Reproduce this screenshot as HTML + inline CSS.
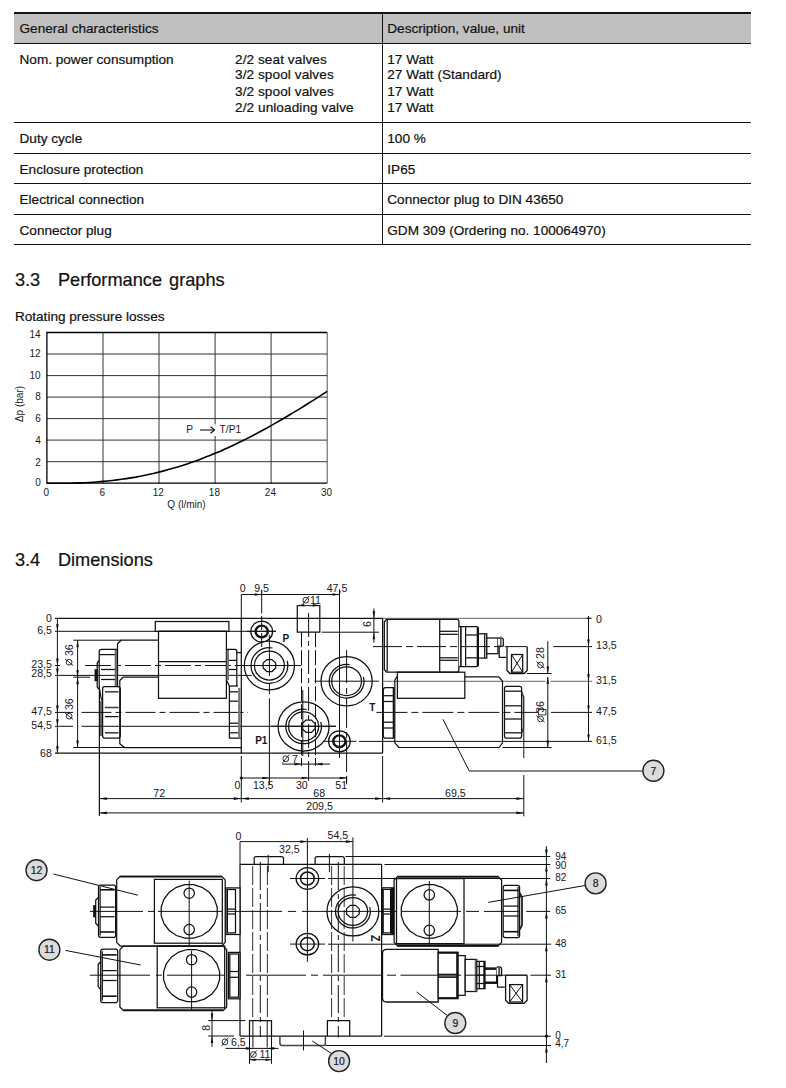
<!DOCTYPE html>
<html><head><meta charset="utf-8"><title>Dimensions</title>
<style>
html,body{margin:0;padding:0;background:#fff;}
body{width:786px;height:1088px;position:relative;overflow:hidden;font-family:"Liberation Sans",sans-serif;color:#111;}
.t{transform:translateY(0.7px);-webkit-text-stroke:0.2px #111;position:absolute;white-space:nowrap;font-size:13.6px;line-height:16px;color:#111;}
.hl{position:absolute;left:14px;width:737px;height:1px;background:#111;}
svg{position:absolute;left:0;top:0;}
svg text{font-family:"Liberation Sans",sans-serif;}
h2{transform:translateY(0.7px);word-spacing:2px;-webkit-text-stroke:0.2px #111;position:absolute;margin:0;font-weight:normal;font-size:18.2px;line-height:20px;white-space:nowrap;color:#111;}
</style></head><body>
<div style="position:absolute;left:14px;top:13px;width:737px;height:30px;background:#c0c0c0;"></div>
<div class="hl" style="top:12.4px;height:1.2px;"></div>
<div class="hl" style="top:42.8px;height:1.2px;"></div>
<div class="hl" style="top:122px;"></div>
<div class="hl" style="top:153px;"></div>
<div class="hl" style="top:183px;"></div>
<div class="hl" style="top:214px;"></div>
<div class="hl" style="top:244px;"></div>
<div style="position:absolute;left:381.8px;top:13px;width:1.2px;height:232px;background:#111;"></div>
<div class="t" style="left:19.5px;top:20.3px;">General characteristics</div>
<div class="t" style="left:387.3px;top:20.3px;">Description, value, unit</div>
<div class="t" style="left:19.5px;top:50.7px;">Nom. power consumption</div>
<div class="t" style="left:235px;top:50.7px;letter-spacing:0.08px;">2/2 seat valves</div>
<div class="t" style="left:235px;top:66.2px;letter-spacing:0.08px;">3/2 spool valves</div>
<div class="t" style="left:235px;top:83.3px;letter-spacing:0.08px;">3/2 spool valves</div>
<div class="t" style="left:235px;top:99.3px;letter-spacing:0.08px;">2/2 unloading valve</div>
<div class="t" style="left:387.3px;top:50.7px;">17 Watt</div>
<div class="t" style="left:387.3px;top:66.2px;">27 Watt (Standard)</div>
<div class="t" style="left:387.3px;top:83.3px;">17 Watt</div>
<div class="t" style="left:387.3px;top:99.3px;">17 Watt</div>
<div class="t" style="left:19.5px;top:130px;">Duty cycle</div>
<div class="t" style="left:387.3px;top:130px;">100 %</div>
<div class="t" style="left:19.5px;top:161.1px;">Enclosure protection</div>
<div class="t" style="left:387.3px;top:161.1px;">IP65</div>
<div class="t" style="left:19.5px;top:191.1px;">Electrical connection</div>
<div class="t" style="left:387.3px;top:191.1px;">Connector plug to DIN 43650</div>
<div class="t" style="left:19.5px;top:221.7px;">Connector plug</div>
<div class="t" style="left:387.3px;top:221.7px;">GDM 309 (Ordering no. 100064970)</div>
<h2 style="left:14.9px;top:268.5px;"><span style="display:inline-block;width:43px">3.3</span>Performance graphs</h2>
<div class="t" style="left:14.9px;top:307.5px;">Rotating pressure losses</div>
<h2 style="left:14.9px;top:549.1px;"><span style="display:inline-block;width:43px">3.4</span>Dimensions</h2>
<svg width="786" height="1088" viewBox="0 0 786 1088">
<line x1="103.0" y1="332.5" x2="103.0" y2="483.2" stroke="#333" stroke-width="1.0"/>
<line x1="159.0" y1="332.5" x2="159.0" y2="483.2" stroke="#333" stroke-width="1.0"/>
<line x1="215.1" y1="332.5" x2="215.1" y2="483.2" stroke="#333" stroke-width="1.0"/>
<line x1="271.1" y1="332.5" x2="271.1" y2="483.2" stroke="#333" stroke-width="1.0"/>
<line x1="46.9" y1="354.0" x2="327.2" y2="354.0" stroke="#333" stroke-width="1.0"/>
<line x1="46.9" y1="375.6" x2="327.2" y2="375.6" stroke="#333" stroke-width="1.0"/>
<line x1="46.9" y1="397.1" x2="327.2" y2="397.1" stroke="#333" stroke-width="1.0"/>
<line x1="46.9" y1="418.6" x2="327.2" y2="418.6" stroke="#333" stroke-width="1.0"/>
<line x1="46.9" y1="440.1" x2="327.2" y2="440.1" stroke="#333" stroke-width="1.0"/>
<line x1="46.9" y1="461.7" x2="327.2" y2="461.7" stroke="#333" stroke-width="1.0"/>
<line x1="327.2" y1="332.5" x2="327.2" y2="483.2" stroke="#555" stroke-width="1.0"/>
<path d="M327.2 332.5L46.9 332.5L46.9 483.2L327.2 483.2" stroke="#000" stroke-width="1.3" fill="none" stroke-linejoin="miter"/>
<text x="40.7" y="337.8" font-size="10" text-anchor="end" fill="#1a1a1a">14</text>
<text x="40.7" y="356.9" font-size="10" text-anchor="end" fill="#1a1a1a">12</text>
<text x="40.7" y="378.8" font-size="10" text-anchor="end" fill="#1a1a1a">10</text>
<text x="40.7" y="399.5" font-size="10" text-anchor="end" fill="#1a1a1a">8</text>
<text x="40.7" y="421.7" font-size="10" text-anchor="end" fill="#1a1a1a">6</text>
<text x="40.7" y="443.7" font-size="10" text-anchor="end" fill="#1a1a1a">4</text>
<text x="40.7" y="465.7" font-size="10" text-anchor="end" fill="#1a1a1a">2</text>
<text x="40.7" y="486.3" font-size="10" text-anchor="end" fill="#1a1a1a">0</text>
<text x="46.2" y="495.7" font-size="10" text-anchor="middle" fill="#1a1a1a">0</text>
<text x="102.3" y="495.7" font-size="10" text-anchor="middle" fill="#1a1a1a">6</text>
<text x="158.3" y="495.7" font-size="10" text-anchor="middle" fill="#1a1a1a">12</text>
<text x="214.4" y="495.7" font-size="10" text-anchor="middle" fill="#1a1a1a">18</text>
<text x="270.4" y="495.7" font-size="10" text-anchor="middle" fill="#1a1a1a">24</text>
<text x="326.5" y="495.7" font-size="10" text-anchor="middle" fill="#1a1a1a">30</text>
<text x="186.5" y="507.6" font-size="10" text-anchor="middle" fill="#1a1a1a">Q (l/min)</text>
<text x="22.9" y="404.0" font-size="10" text-anchor="middle" fill="#1a1a1a" transform="rotate(-90 22.9 404.0)">Δp (bar)</text>
<path d="M46.9 483.2L51.6 483.2L56.2 483.2L60.9 483.2L65.6 483.2L70.3 483.2L74.9 483.1L79.6 482.9L84.3 482.7L88.9 482.5L93.6 482.2L98.3 481.8L103.0 481.4L107.6 481.0L112.3 480.5L117.0 479.9L121.6 479.3L126.3 478.6L131.0 477.9L135.7 477.1L140.3 476.2L145.0 475.3L149.7 474.3L154.3 473.2L159.0 472.1L163.7 470.9L168.4 469.6L173.0 468.3L177.7 466.9L182.4 465.5L187.1 463.9L191.7 462.3L196.4 460.7L201.1 458.9L205.7 457.1L210.4 455.3L215.1 453.3L219.8 451.4L224.4 449.3L229.1 447.2L233.8 445.0L238.4 442.8L243.1 440.5L247.8 438.1L252.5 435.7L257.1 433.3L261.8 430.7L266.5 428.2L271.1 425.6L275.8 422.9L280.5 420.2L285.2 417.5L289.8 414.7L294.5 411.9L299.2 409.1L303.8 406.2L308.5 403.3L313.2 400.3L317.9 397.4L322.5 394.4L327.2 391.4" stroke="#000" stroke-width="1.6" fill="none" stroke-linejoin="round"/>
<rect x="183.0" y="424.5" width="60.0" height="11.5" rx="0" stroke="none" stroke-width="0" fill="#fff"/>
<text x="186.3" y="432.8" font-size="10.2" text-anchor="start" fill="#1a1a1a">P</text>
<line x1="200.0" y1="430.0" x2="214.0" y2="430.0" stroke="#111" stroke-width="1.1"/>
<path d="M210.5 426.8L214.6 430L210.5 433.2" stroke="#111" stroke-width="1.1" fill="none" stroke-linejoin="round"/>
<text x="219.6" y="432.8" font-size="10.2" text-anchor="start" fill="#1a1a1a">T/P1</text>
<line x1="57.4" y1="618.3" x2="57.4" y2="753.2" stroke="#111" stroke-width="1.0"/>
<text x="51.9" y="621.5" font-size="10.6" text-anchor="end" fill="#16161e">0</text>
<text x="51.9" y="633.9" font-size="10.6" text-anchor="end" fill="#16161e">6,5</text>
<text x="51.9" y="668.4" font-size="10.6" text-anchor="end" fill="#16161e">23,5</text>
<text x="51.9" y="677.4" font-size="10.6" text-anchor="end" fill="#16161e">28,5</text>
<text x="51.9" y="714.9" font-size="10.6" text-anchor="end" fill="#16161e">47,5</text>
<text x="51.9" y="728.9" font-size="10.6" text-anchor="end" fill="#16161e">54,5</text>
<text x="51.9" y="756.8" font-size="10.6" text-anchor="end" fill="#16161e">68</text>
<polygon points="57.4,631.3 56.1,624.3 58.7,624.3" fill="#111"/>
<polygon points="57.4,665.5 56.1,658.5 58.7,658.5" fill="#111"/>
<polygon points="57.4,675.4 56.1,668.4 58.7,668.4" fill="#111"/>
<polygon points="57.4,712.4 56.1,705.4 58.7,705.4" fill="#111"/>
<polygon points="57.4,726.3 56.1,719.3 58.7,719.3" fill="#111"/>
<polygon points="57.4,753.2 56.1,746.2 58.7,746.2" fill="#111"/>
<line x1="55.0" y1="618.3" x2="382.7" y2="618.3" stroke="#111" stroke-width="1.25"/>
<line x1="55.0" y1="631.3" x2="276.0" y2="631.3" stroke="#111" stroke-width="1.0"/>
<line x1="55.0" y1="675.4" x2="251.7" y2="675.4" stroke="#111" stroke-width="1.0"/>
<line x1="55.0" y1="753.2" x2="382.7" y2="753.2" stroke="#111" stroke-width="1.25"/>
<line x1="55.0" y1="665.5" x2="60.0" y2="665.5" stroke="#111" stroke-width="1.0"/>
<line x1="85.0" y1="665.5" x2="238.0" y2="665.5" stroke="#111" stroke-width="1.0" stroke-dasharray="26 4 6 4"/>
<line x1="55.0" y1="712.4" x2="73.0" y2="712.4" stroke="#111" stroke-width="1.0"/>
<line x1="81.5" y1="712.4" x2="248.0" y2="712.4" stroke="#111" stroke-width="1.0" stroke-dasharray="30 4 6 4"/>
<line x1="55.0" y1="726.3" x2="73.0" y2="726.3" stroke="#111" stroke-width="1.0"/>
<line x1="81.5" y1="726.3" x2="336.0" y2="726.3" stroke="#111" stroke-width="1.0"/>
<line x1="73.2" y1="640.2" x2="121.0" y2="640.2" stroke="#111" stroke-width="1.0"/>
<line x1="73.2" y1="677.2" x2="90.0" y2="677.2" stroke="#111" stroke-width="1.0"/>
<line x1="73.2" y1="747.5" x2="125.0" y2="747.5" stroke="#111" stroke-width="1.0"/>
<line x1="77.6" y1="640.2" x2="77.6" y2="747.5" stroke="#111" stroke-width="1.0"/>
<polygon points="77.6,640.2 76.3,647.2 78.9,647.2" fill="#111"/>
<polygon points="77.6,677.2 76.3,670.2 78.9,670.2" fill="#111"/>
<polygon points="77.6,677.2 76.3,684.2 78.9,684.2" fill="#111"/>
<polygon points="77.6,747.5 76.3,740.5 78.9,740.5" fill="#111"/>
<g transform="rotate(-90 72.9 655.0)"><circle cx="65.7" cy="651.2" r="2.9" fill="none" stroke="#16161e" stroke-width="0.9"/><line x1="62.4" y1="655.3" x2="69.0" y2="647.1" stroke="#16161e" stroke-width="0.9"/><text x="71.8" y="655.0" font-size="10.6" fill="#16161e">36</text></g>
<g transform="rotate(-90 72.9 709.0)"><circle cx="65.7" cy="705.2" r="2.9" fill="none" stroke="#16161e" stroke-width="0.9"/><line x1="62.4" y1="709.3" x2="69.0" y2="701.1" stroke="#16161e" stroke-width="0.9"/><text x="71.8" y="709.0" font-size="10.6" fill="#16161e">36</text></g>
<rect x="155.3" y="621.5" width="73.6" height="9.8" rx="0" stroke="#111" stroke-width="1.25" fill="#fff"/>
<rect x="158.5" y="631.3" width="67.9" height="67.0" rx="0" stroke="#111" stroke-width="1.25" fill="none"/>
<line x1="158.5" y1="661.5" x2="226.4" y2="661.5" stroke="#111" stroke-width="1.25"/>
<path d="M158.5 640.2L121.1 640.2L117.5 643.8L117.5 686" stroke="#111" stroke-width="1.25" fill="none" stroke-linejoin="round"/>
<path d="M158.5 677.2L123 677.2L119.8 680.5L119.8 743.7L124.5 747.5L241 747.5" stroke="#111" stroke-width="1.25" fill="none" stroke-linejoin="round"/>
<line x1="226.4" y1="698.3" x2="226.4" y2="747.5" stroke="#111" stroke-width="0"/>
<path d="M117.5 649.3L101.5 649.3Q99.2 649.3 99.2 652L99.2 686" stroke="#111" stroke-width="1.25" fill="none" stroke-linejoin="round"/>
<line x1="99.2" y1="654.6" x2="117.5" y2="654.6" stroke="#111" stroke-width="1.25"/>
<line x1="101.0" y1="669.5" x2="117.5" y2="669.5" stroke="#111" stroke-width="1.25"/>
<line x1="101.0" y1="679.5" x2="117.5" y2="679.5" stroke="#111" stroke-width="1.25"/>
<line x1="115.8" y1="650.0" x2="115.8" y2="686.0" stroke="#666" stroke-width="2.2"/>
<path d="M99.2 660.4L97.2 663L97.2 687L99.2 689.3" stroke="#111" stroke-width="1.25" fill="none" stroke-linejoin="round"/>
<rect x="94.9" y="669.5" width="2.7" height="11.5" rx="0" stroke="#111" stroke-width="0.5" fill="#111"/>
<path d="M104.5 686.5L118 686.5Q120.3 686.5 120.3 689L120.3 735.5Q120.3 738.2 118 738.2L105 738.2Q102.6 738.2 102.6 735.5L102.6 689Q102.6 686.5 104.5 686.5Z" stroke="#111" stroke-width="1.25" fill="none" stroke-linejoin="round"/>
<line x1="105.0" y1="691.8" x2="118.5" y2="691.8" stroke="#444" stroke-width="1.6"/>
<line x1="105.0" y1="707.5" x2="118.5" y2="707.5" stroke="#444" stroke-width="1.6"/>
<line x1="105.0" y1="716.6" x2="118.5" y2="716.6" stroke="#111" stroke-width="1.25"/>
<line x1="105.0" y1="732.8" x2="118.5" y2="732.8" stroke="#444" stroke-width="1.6"/>
<path d="M99.6 689L101.2 699L102.6 701" stroke="#111" stroke-width="1.25" fill="none" stroke-linejoin="round"/>
<line x1="101.0" y1="701.0" x2="101.0" y2="736.0" stroke="#111" stroke-width="1.25"/>
<line x1="99.4" y1="686.0" x2="99.4" y2="815.8" stroke="#111" stroke-width="1.25"/>
<path d="M226.4 649.3L235 649.3Q236.8 649.3 236.8 651.5L236.8 686" stroke="#111" stroke-width="1.25" fill="none" stroke-linejoin="round"/>
<line x1="236.8" y1="652.6" x2="241.3" y2="652.6" stroke="#111" stroke-width="1.25"/>
<line x1="227.8" y1="650.0" x2="227.8" y2="680.0" stroke="#777" stroke-width="2.4"/>
<line x1="229.0" y1="660.4" x2="236.8" y2="660.4" stroke="#111" stroke-width="1.25"/>
<line x1="229.0" y1="669.5" x2="236.8" y2="669.5" stroke="#111" stroke-width="1.25"/>
<line x1="226.4" y1="680.0" x2="229.4" y2="686.0" stroke="#111" stroke-width="1.25"/>
<path d="M229.4 686L229.4 738L240.8 738" stroke="#111" stroke-width="1.25" fill="none" stroke-linejoin="round"/>
<line x1="229.4" y1="686.0" x2="238.0" y2="686.0" stroke="#111" stroke-width="1.25"/>
<line x1="239.2" y1="688.0" x2="239.2" y2="737.0" stroke="#777" stroke-width="2.2"/>
<line x1="229.4" y1="691.8" x2="238.0" y2="691.8" stroke="#111" stroke-width="1.25"/>
<line x1="229.4" y1="701.2" x2="238.0" y2="701.2" stroke="#111" stroke-width="1.25"/>
<line x1="229.4" y1="723.2" x2="238.0" y2="723.2" stroke="#111" stroke-width="1.25"/>
<line x1="229.4" y1="732.8" x2="238.0" y2="732.8" stroke="#111" stroke-width="1.25"/>
<line x1="241.3" y1="618.3" x2="241.3" y2="753.2" stroke="#111" stroke-width="1.25"/>
<line x1="382.6" y1="618.3" x2="382.6" y2="753.2" stroke="#111" stroke-width="1.25"/>
<line x1="241.3" y1="594.5" x2="339.5" y2="594.5" stroke="#111" stroke-width="1.0"/>
<line x1="241.3" y1="594.5" x2="241.3" y2="618.3" stroke="#111" stroke-width="1.0"/>
<line x1="261.7" y1="589.5" x2="261.7" y2="613.5" stroke="#111" stroke-width="1.0"/>
<line x1="261.7" y1="616.0" x2="261.7" y2="647.0" stroke="#111" stroke-width="1.0" stroke-dasharray="14 3"/>
<line x1="339.5" y1="589.5" x2="339.5" y2="758.0" stroke="#111" stroke-width="1.0"/>
<polygon points="261.7,594.5 254.7,593.2 254.7,595.8" fill="#111"/>
<polygon points="339.5,594.5 332.5,593.2 332.5,595.8" fill="#111"/>
<text x="242.8" y="591.8" font-size="10.6" text-anchor="middle" fill="#16161e">0</text>
<text x="261.6" y="591.8" font-size="10.6" text-anchor="middle" fill="#16161e">9,5</text>
<text x="337.0" y="591.8" font-size="10.6" text-anchor="middle" fill="#16161e">47,5</text>
<ellipse cx="261.7" cy="631.5" rx="10.9" ry="10.5" stroke="#111" stroke-width="1.25" fill="none"/>
<ellipse cx="261.7" cy="631.5" rx="6.1" ry="5.9" stroke="#111" stroke-width="2.4" fill="none"/>
<ellipse cx="339.4" cy="741.3" rx="10.9" ry="10.5" stroke="#111" stroke-width="1.25" fill="none"/>
<ellipse cx="339.4" cy="741.3" rx="6.1" ry="5.9" stroke="#111" stroke-width="2.4" fill="none"/>
<line x1="247.0" y1="631.3" x2="276.0" y2="631.3" stroke="#111" stroke-width="1.0"/>
<line x1="323.4" y1="741.3" x2="356.3" y2="741.3" stroke="#111" stroke-width="1.0"/>
<ellipse cx="269.4" cy="665.5" rx="25.1" ry="24.4" stroke="#111" stroke-width="1.25" fill="none"/>
<ellipse cx="269.4" cy="665.5" rx="15.0" ry="14.5" stroke="#111" stroke-width="1.25" fill="none"/>
<path d="M287.2 660.9A18.4 17.8 0 1 1 272.6 648.0" stroke="#111" stroke-width="1.25" fill="none" stroke-linejoin="round"/>
<polygon points="275.7,668.0 272.0,671.5 266.8,671.5 263.1,668.0 263.1,663.0 266.8,659.5 272.0,659.5 275.7,663.0" fill="none" stroke="#111" stroke-width="1.25"/>
<line x1="238.0" y1="665.5" x2="301.0" y2="665.5" stroke="#111" stroke-width="1.0"/>
<line x1="269.4" y1="634.7" x2="269.4" y2="676.0" stroke="#111" stroke-width="1.0"/>
<line x1="269.4" y1="683.0" x2="269.4" y2="694.2" stroke="#111" stroke-width="1.0"/>
<line x1="269.4" y1="698.3" x2="269.4" y2="784.3" stroke="#111" stroke-width="1.0"/>
<text x="282.5" y="641.5" font-size="10" text-anchor="start" fill="#16161e" font-weight="bold">P</text>
<ellipse cx="346.6" cy="681.2" rx="25.6" ry="24.7" stroke="#111" stroke-width="1.25" fill="none"/>
<ellipse cx="346.6" cy="681.2" rx="14.9" ry="14.4" stroke="#111" stroke-width="1.25" fill="none"/>
<path d="M363.4 676.9A17.4 16.8 0 1 1 349.6 664.7" stroke="#111" stroke-width="1.25" fill="none" stroke-linejoin="round"/>
<line x1="314.5" y1="681.2" x2="379.0" y2="681.2" stroke="#111" stroke-width="1.0"/>
<line x1="346.6" y1="650.0" x2="346.6" y2="683.0" stroke="#111" stroke-width="1.0"/>
<line x1="346.6" y1="688.0" x2="346.6" y2="694.0" stroke="#111" stroke-width="1.0"/>
<line x1="346.6" y1="698.0" x2="346.6" y2="784.3" stroke="#111" stroke-width="1.0" stroke-dasharray="30 4 6 4"/>
<text x="369.2" y="710.8" font-size="10" text-anchor="start" fill="#16161e" font-weight="bold">T</text>
<ellipse cx="303.6" cy="726.4" rx="25.5" ry="24.6" stroke="#111" stroke-width="1.25" fill="none"/>
<ellipse cx="303.6" cy="726.4" rx="15.0" ry="14.5" stroke="#111" stroke-width="1.25" fill="none"/>
<path d="M320.8 721.9A17.8 17.2 0 1 1 306.7 709.5" stroke="#111" stroke-width="1.25" fill="none" stroke-linejoin="round"/>
<polygon points="315.2,728.8 311.4,732.4 306.0,732.4 302.2,728.8 302.2,723.6 306.0,720.0 311.4,720.0 315.2,723.6" fill="none" stroke="#111" stroke-width="1.25"/>
<line x1="271.0" y1="726.2" x2="336.0" y2="726.2" stroke="#111" stroke-width="1.0"/>
<line x1="302.8" y1="690.0" x2="302.8" y2="756.0" stroke="#111" stroke-width="1.0"/>
<text x="255.2" y="743.8" font-size="10" text-anchor="start" fill="#16161e" font-weight="bold">P1</text>
<path d="M297.3 604.9L297.3 632.2L319.8 632.2L319.8 604.9" stroke="#111" stroke-width="1.25" fill="none" stroke-linejoin="round"/>
<line x1="297.3" y1="605.7" x2="319.8" y2="605.7" stroke="#111" stroke-width="1.0"/>
<polygon points="297.3,605.3 304.3,604.1 304.3,606.5" fill="#111"/>
<polygon points="319.8,605.3 312.8,604.1 312.8,606.5" fill="#111"/>
<line x1="301.5" y1="632.2" x2="301.5" y2="758.0" stroke="#111" stroke-width="1.0" stroke-dasharray="15 3"/>
<line x1="315.5" y1="632.2" x2="315.5" y2="758.0" stroke="#111" stroke-width="1.0" stroke-dasharray="15 3"/>
<line x1="308.6" y1="613.0" x2="308.6" y2="770.0" stroke="#111" stroke-width="1.0" stroke-dasharray="24 4 5 4"/>
<g><circle cx="305.8" cy="600.2" r="2.9" fill="none" stroke="#16161e" stroke-width="0.9"/><line x1="302.5" y1="604.3" x2="309.1" y2="596.1" stroke="#16161e" stroke-width="0.9"/><text x="309.9" y="604.0" font-size="10.6" fill="#16161e">11</text></g>
<line x1="321.8" y1="632.2" x2="379.0" y2="632.2" stroke="#111" stroke-width="1.0"/>
<line x1="373.9" y1="608.5" x2="373.9" y2="642.6" stroke="#111" stroke-width="1.0"/>
<polygon points="373.9,618.3 372.6,611.3 375.2,611.3" fill="#111"/>
<polygon points="373.9,632.2 372.6,639.2 375.2,639.2" fill="#111"/>
<text x="370.8" y="624.0" font-size="10.6" text-anchor="middle" fill="#16161e" transform="rotate(-90 370.8 624.0)">6</text>
<line x1="282.0" y1="764.1" x2="330.0" y2="764.1" stroke="#111" stroke-width="1.0"/>
<polygon points="301.5,764.1 294.5,762.8 294.5,765.4" fill="#111"/>
<polygon points="315.5,764.1 322.5,762.8 322.5,765.4" fill="#111"/>
<line x1="301.5" y1="758.0" x2="301.5" y2="766.0" stroke="#111" stroke-width="1.0"/>
<line x1="315.5" y1="758.0" x2="315.5" y2="766.0" stroke="#111" stroke-width="1.0"/>
<g><circle cx="285.8" cy="758.8" r="2.9" fill="none" stroke="#16161e" stroke-width="0.9"/><line x1="282.5" y1="762.9" x2="289.1" y2="754.7" stroke="#16161e" stroke-width="0.9"/><text x="291.9" y="762.6" font-size="10.6" fill="#16161e">7</text></g>
<line x1="241.3" y1="778.0" x2="346.6" y2="778.0" stroke="#111" stroke-width="1.0"/>
<circle cx="241.3" cy="778.0" r="1.3" stroke="#111" stroke-width="0.5" fill="#111"/>
<polygon points="269.4,778.0 262.4,776.7 262.4,779.3" fill="#111"/>
<polygon points="308.6,778.0 301.6,776.7 301.6,779.3" fill="#111"/>
<polygon points="346.6,778.0 339.6,776.7 339.6,779.3" fill="#111"/>
<line x1="308.6" y1="770.0" x2="308.6" y2="781.0" stroke="#111" stroke-width="1.0"/>
<line x1="346.6" y1="776.0" x2="346.6" y2="784.3" stroke="#111" stroke-width="1.0"/>
<text x="240.5" y="789.3" font-size="10.6" text-anchor="end" fill="#16161e">0</text>
<text x="263.2" y="789.3" font-size="10.6" text-anchor="middle" fill="#16161e">13,5</text>
<text x="301.8" y="789.3" font-size="10.6" text-anchor="middle" fill="#16161e">30</text>
<text x="341.2" y="789.3" font-size="10.6" text-anchor="middle" fill="#16161e">51</text>
<line x1="241.3" y1="756.0" x2="241.3" y2="802.5" stroke="#111" stroke-width="1.0"/>
<line x1="382.6" y1="756.0" x2="382.6" y2="802.5" stroke="#111" stroke-width="1.0"/>
<line x1="99.4" y1="798.6" x2="523.8" y2="798.6" stroke="#111" stroke-width="1.0"/>
<polygon points="99.4,798.6 106.9,797.3 106.9,799.9" fill="#111"/>
<polygon points="241.3,798.6 233.8,797.3 233.8,799.9" fill="#111"/>
<polygon points="241.3,798.6 248.8,797.3 248.8,799.9" fill="#111"/>
<polygon points="382.6,798.6 375.1,797.3 375.1,799.9" fill="#111"/>
<polygon points="382.6,798.6 390.1,797.3 390.1,799.9" fill="#111"/>
<polygon points="523.8,798.6 516.3,797.3 516.3,799.9" fill="#111"/>
<text x="159.2" y="796.6" font-size="10.6" text-anchor="middle" fill="#16161e">72</text>
<text x="319.2" y="796.9" font-size="10.6" text-anchor="middle" fill="#16161e">68</text>
<text x="455.3" y="796.6" font-size="10.6" text-anchor="middle" fill="#16161e">69,5</text>
<line x1="99.4" y1="812.9" x2="523.8" y2="812.9" stroke="#111" stroke-width="1.0"/>
<polygon points="99.4,812.9 106.9,811.6 106.9,814.2" fill="#111"/>
<polygon points="523.8,812.9 516.3,811.6 516.3,814.2" fill="#111"/>
<text x="319.6" y="809.5" font-size="10.6" text-anchor="middle" fill="#16161e">209,5</text>
<line x1="523.8" y1="729.0" x2="523.8" y2="758.0" stroke="#111" stroke-width="1.0"/>
<line x1="523.8" y1="775.0" x2="523.8" y2="816.3" stroke="#111" stroke-width="1.0"/>
<line x1="382.6" y1="618.3" x2="592.0" y2="618.3" stroke="#666" stroke-width="1.0"/>
<line x1="382.6" y1="681.3" x2="545.5" y2="681.3" stroke="#666" stroke-width="1.0"/>
<line x1="550.5" y1="681.3" x2="592.0" y2="681.3" stroke="#666" stroke-width="1.0"/>
<line x1="359.1" y1="741.4" x2="592.0" y2="741.4" stroke="#111" stroke-width="1.0"/>
<path d="M386.5 619.4L456.8 619.4Q458.9 619.4 458.9 621.5L458.9 670Q458.9 672.2 456.8 672.2L386.5 672.2L384.3 669.5L384.3 622Z" stroke="#111" stroke-width="1.3" fill="#fff" stroke-linejoin="round"/>
<line x1="387.2" y1="620.0" x2="387.2" y2="671.6" stroke="#111" stroke-width="1.25"/>
<line x1="439.7" y1="619.4" x2="439.7" y2="672.2" stroke="#111" stroke-width="1.25"/>
<line x1="439.7" y1="631.3" x2="457.8" y2="631.3" stroke="#111" stroke-width="1.25"/>
<line x1="439.7" y1="634.3" x2="457.8" y2="634.3" stroke="#111" stroke-width="1.25"/>
<line x1="439.7" y1="657.8" x2="457.8" y2="657.8" stroke="#111" stroke-width="1.25"/>
<line x1="439.7" y1="660.3" x2="457.8" y2="660.3" stroke="#111" stroke-width="1.25"/>
<path d="M458.9 626.7L476.5 626.7Q478.4 626.7 478.4 628.5L478.4 664.8Q478.4 666.6 476.5 666.6L458.9 666.6" stroke="#111" stroke-width="1.25" fill="#fff" stroke-linejoin="round"/>
<line x1="460.9" y1="626.7" x2="460.9" y2="666.6" stroke="#111" stroke-width="1.6"/>
<line x1="465.6" y1="626.7" x2="465.6" y2="666.6" stroke="#111" stroke-width="1.25"/>
<line x1="465.6" y1="635.0" x2="478.4" y2="635.0" stroke="#111" stroke-width="1.25"/>
<line x1="465.6" y1="657.8" x2="478.4" y2="657.8" stroke="#111" stroke-width="1.25"/>
<line x1="477.6" y1="627.5" x2="477.6" y2="666.0" stroke="#111" stroke-width="1.8"/>
<rect x="478.4" y="633.8" width="8.4" height="24.3" rx="0" stroke="#111" stroke-width="1.25" fill="#fff"/>
<line x1="484.7" y1="633.8" x2="484.7" y2="658.1" stroke="#111" stroke-width="1.25"/>
<rect x="486.8" y="638.0" width="11.1" height="15.7" rx="0" stroke="#111" stroke-width="1.25" fill="#fff"/>
<path d="M497.9 638L501.5 638Q503.3 638 503.3 640L503.3 646.2L497.9 646.2" stroke="#111" stroke-width="1.25" fill="#fff" stroke-linejoin="round"/>
<line x1="500.8" y1="636.5" x2="500.8" y2="646.0" stroke="#555" stroke-width="1.6"/>
<path d="M499.2 646.6L499.2 657.3L506 657.3" stroke="#111" stroke-width="1.25" fill="none" stroke-linejoin="round"/>
<path d="M507 646.6L507 670.5L510 673.5L524.2 673.5L527.2 670.5L527.2 646.6" stroke="#111" stroke-width="1.3" fill="none" stroke-linejoin="round"/>
<rect x="511.5" y="654.5" width="11.2" height="17.7" rx="0" stroke="#111" stroke-width="1.25" fill="none"/>
<line x1="511.5" y1="654.5" x2="522.7" y2="672.2" stroke="#111" stroke-width="1.0"/>
<line x1="522.7" y1="654.5" x2="511.5" y2="672.2" stroke="#111" stroke-width="1.0"/>
<line x1="373.0" y1="646.6" x2="527.0" y2="646.6" stroke="#111" stroke-width="1.0" stroke-dasharray="29 4 7 4"/>
<line x1="553.3" y1="646.6" x2="592.0" y2="646.6" stroke="#111" stroke-width="1.0"/>
<line x1="547.8" y1="641.3" x2="547.8" y2="673.5" stroke="#111" stroke-width="1.0"/>
<polygon points="547.8,673.5 546.5,666.5 549.1,666.5" fill="#111"/>
<line x1="526.8" y1="673.5" x2="551.6" y2="673.5" stroke="#111" stroke-width="1.0"/>
<g transform="rotate(-90 544.3 657.8)"><circle cx="537.1" cy="654.0" r="2.9" fill="none" stroke="#16161e" stroke-width="0.9"/><line x1="533.8" y1="658.1" x2="540.4" y2="649.9" stroke="#16161e" stroke-width="0.9"/><text x="543.2" y="657.8" font-size="10.6" fill="#16161e">28</text></g>
<line x1="547.8" y1="676.8" x2="547.8" y2="747.5" stroke="#111" stroke-width="1.0"/>
<polygon points="547.8,676.8 546.5,683.8 549.1,683.8" fill="#111"/>
<polygon points="547.8,747.5 546.5,740.5 549.1,740.5" fill="#111"/>
<line x1="502.5" y1="747.5" x2="551.6" y2="747.5" stroke="#111" stroke-width="1.0"/>
<g transform="rotate(-90 544.3 711.7)"><circle cx="537.1" cy="707.9" r="2.9" fill="none" stroke="#16161e" stroke-width="0.9"/><line x1="533.8" y1="712.0" x2="540.4" y2="703.8" stroke="#16161e" stroke-width="0.9"/><text x="543.2" y="711.7" font-size="10.6" fill="#16161e">36</text></g>
<rect x="538.6" y="709.4" width="7.3" height="5.5" rx="0" stroke="#111" stroke-width="0.8" fill="none"/>
<rect x="397.4" y="672.2" width="67.4" height="26.1" rx="0" stroke="#111" stroke-width="1.25" fill="none"/>
<path d="M397.4 676.2L394.8 680.1L394.8 742.9L399 747.5L499.1 747.5L502.5 742.9L502.5 681L498.7 676.8L464.8 676.8" stroke="#111" stroke-width="1.2" fill="none" stroke-linejoin="round"/>
<path d="M394 687.6L385.5 687.6Q383.3 687.6 383.3 690L383.3 736Q383.3 738.2 385.5 738.2L394 738.2" stroke="#111" stroke-width="1.25" fill="none" stroke-linejoin="round"/>
<line x1="393.6" y1="688.0" x2="393.6" y2="738.0" stroke="#111" stroke-width="1.8"/>
<line x1="384.0" y1="695.7" x2="393.0" y2="695.7" stroke="#111" stroke-width="1.25"/>
<line x1="384.0" y1="701.5" x2="393.0" y2="701.5" stroke="#111" stroke-width="1.25"/>
<line x1="384.0" y1="722.2" x2="393.0" y2="722.2" stroke="#111" stroke-width="1.25"/>
<line x1="384.0" y1="728.0" x2="393.0" y2="728.0" stroke="#111" stroke-width="1.25"/>
<path d="M506.5 686.4L519.5 686.4Q521.6 686.4 521.6 688.5L521.6 736Q521.6 738.2 519.5 738.2L506.5 738.2Q504.5 738.2 504.5 736L504.5 688.5Q504.5 686.4 506.5 686.4Z" stroke="#111" stroke-width="1.25" fill="#fff" stroke-linejoin="round"/>
<line x1="505.0" y1="691.2" x2="521.0" y2="691.2" stroke="#111" stroke-width="1.25"/>
<line x1="505.0" y1="705.8" x2="521.0" y2="705.8" stroke="#111" stroke-width="1.25"/>
<line x1="505.0" y1="719.0" x2="521.0" y2="719.0" stroke="#111" stroke-width="1.25"/>
<line x1="505.0" y1="732.8" x2="521.0" y2="732.8" stroke="#111" stroke-width="1.25"/>
<path d="M521.6 692L523.6 697L523.6 728L521.6 733" stroke="#333" stroke-width="1.6" fill="none" stroke-linejoin="round"/>
<line x1="376.4" y1="712.4" x2="538.0" y2="712.4" stroke="#111" stroke-width="1.0" stroke-dasharray="31 4 7 4"/>
<line x1="551.0" y1="712.4" x2="592.0" y2="712.4" stroke="#111" stroke-width="1.0"/>
<path d="M442.9 719.2L469.3 771L642.5 771" stroke="#111" stroke-width="1.0" fill="none" stroke-linejoin="round"/>
<circle cx="653.4" cy="770.8" r="10.5" stroke="#222" stroke-width="1.4" fill="#dcdcdc"/>
<text x="653.4" y="774.5" font-size="10.4" text-anchor="middle" fill="#1a1a2a" stroke="#1a1a2a" stroke-width="0.22">7</text>
<line x1="588.5" y1="616.0" x2="588.5" y2="741.5" stroke="#111" stroke-width="1.0"/>
<text x="596.0" y="622.5" font-size="10.6" text-anchor="start" fill="#16161e">0</text>
<text x="596.0" y="649.3" font-size="10.6" text-anchor="start" fill="#16161e">13,5</text>
<text x="596.0" y="683.8" font-size="10.6" text-anchor="start" fill="#16161e">31,5</text>
<text x="596.0" y="715.0" font-size="10.6" text-anchor="start" fill="#16161e">47,5</text>
<text x="596.0" y="743.7" font-size="10.6" text-anchor="start" fill="#16161e">61,5</text>
<polygon points="588.5,646.6 587.2,639.6 589.8,639.6" fill="#111"/>
<polygon points="588.5,681.3 587.2,674.3 589.8,674.3" fill="#111"/>
<polygon points="588.5,712.4 587.2,705.4 589.8,705.4" fill="#111"/>
<polygon points="588.5,741.5 587.2,734.5 589.8,734.5" fill="#111"/>
<line x1="586.5" y1="618.3" x2="590.5" y2="618.3" stroke="#111" stroke-width="1.25"/>
<line x1="240.0" y1="841.6" x2="240.0" y2="864.3" stroke="#111" stroke-width="1.0"/>
<line x1="240.0" y1="864.3" x2="240.0" y2="1036.0" stroke="#111" stroke-width="1.25"/>
<line x1="381.6" y1="864.3" x2="381.6" y2="1036.0" stroke="#111" stroke-width="1.25"/>
<line x1="240.0" y1="864.3" x2="381.6" y2="864.3" stroke="#111" stroke-width="1.25"/>
<line x1="240.0" y1="1036.0" x2="381.6" y2="1036.0" stroke="#111" stroke-width="1.25"/>
<path d="M254.2 864.3L254.2 858.5Q254.2 856.5 256.2 856.5L281.5 856.5Q283.5 856.5 283.5 858.5L283.5 864.3" stroke="#111" stroke-width="1.25" fill="none" stroke-linejoin="round"/>
<path d="M315.1 864.3L315.1 858.5Q315.1 856.5 317.1 856.5L342.3 856.5Q344.3 856.5 344.3 858.5L344.3 864.3" stroke="#111" stroke-width="1.25" fill="none" stroke-linejoin="round"/>
<line x1="240.0" y1="841.6" x2="352.9" y2="841.6" stroke="#111" stroke-width="1.0"/>
<polygon points="307.4,841.6 300.4,840.3 300.4,842.9" fill="#111"/>
<polygon points="352.9,841.6 345.9,840.3 345.9,842.9" fill="#111"/>
<line x1="307.4" y1="838.0" x2="307.4" y2="961.8" stroke="#111" stroke-width="1.0"/>
<line x1="352.9" y1="837.4" x2="352.9" y2="941.6" stroke="#111" stroke-width="1.0"/>
<text x="238.5" y="839.6" font-size="10.6" text-anchor="middle" fill="#16161e">0</text>
<text x="289.4" y="853.1" font-size="10.6" text-anchor="middle" fill="#16161e">32,5</text>
<text x="337.8" y="838.6" font-size="10.6" text-anchor="middle" fill="#16161e">54,5</text>
<line x1="252.7" y1="866.0" x2="252.7" y2="1020.6" stroke="#333" stroke-width="1.0" stroke-dasharray="19 3"/>
<line x1="267.4" y1="866.0" x2="267.4" y2="1020.6" stroke="#333" stroke-width="1.0" stroke-dasharray="19 3"/>
<line x1="260.3" y1="862.0" x2="260.3" y2="1037.0" stroke="#111" stroke-width="1.0" stroke-dasharray="28 4 5 4"/>
<line x1="268.2" y1="854.8" x2="268.2" y2="872.2" stroke="#111" stroke-width="1.0"/>
<line x1="331.6" y1="866.0" x2="331.6" y2="1020.6" stroke="#333" stroke-width="1.0" stroke-dasharray="19 3"/>
<line x1="344.2" y1="866.0" x2="344.2" y2="1020.6" stroke="#333" stroke-width="1.0" stroke-dasharray="19 3"/>
<line x1="338.3" y1="862.0" x2="338.3" y2="1037.5" stroke="#111" stroke-width="1.0" stroke-dasharray="28 4 5 4"/>
<line x1="329.4" y1="854.0" x2="329.4" y2="872.2" stroke="#111" stroke-width="1.0"/>
<path d="M249.5 1036L249.5 1020.6L271.5 1020.6L271.5 1036" stroke="#111" stroke-width="1.25" fill="none" stroke-linejoin="round"/>
<line x1="252.9" y1="1020.6" x2="252.9" y2="1047.6" stroke="#111" stroke-width="1.0"/>
<line x1="267.2" y1="1020.6" x2="267.2" y2="1047.6" stroke="#111" stroke-width="1.0"/>
<line x1="249.5" y1="1036.0" x2="249.5" y2="1063.8" stroke="#111" stroke-width="1.0"/>
<line x1="271.5" y1="1036.0" x2="271.5" y2="1063.8" stroke="#111" stroke-width="1.0"/>
<path d="M327.4 1036L327.4 1020.6L349.7 1020.6L349.7 1036" stroke="#111" stroke-width="1.25" fill="none" stroke-linejoin="round"/>
<ellipse cx="307.4" cy="878.5" rx="11.3" ry="10.8" stroke="#111" stroke-width="1.25" fill="none"/>
<ellipse cx="307.4" cy="878.5" rx="6.9" ry="6.6" stroke="#111" stroke-width="1.5" fill="none"/>
<line x1="290.0" y1="878.5" x2="325.0" y2="878.5" stroke="#111" stroke-width="1.0"/>
<ellipse cx="307.4" cy="944.1" rx="11.3" ry="10.8" stroke="#111" stroke-width="1.25" fill="none"/>
<ellipse cx="307.4" cy="944.1" rx="6.9" ry="6.6" stroke="#111" stroke-width="1.5" fill="none"/>
<line x1="290.0" y1="944.1" x2="325.0" y2="944.1" stroke="#111" stroke-width="1.0"/>
<ellipse cx="352.9" cy="911.4" rx="25.9" ry="24.5" stroke="#111" stroke-width="1.25" fill="none"/>
<ellipse cx="352.9" cy="911.4" rx="14.7" ry="13.9" stroke="#111" stroke-width="1.25" fill="none"/>
<path d="M369.7 907.1A17.4 16.5 0 1 1 355.9 895.2" stroke="#111" stroke-width="1.25" fill="none" stroke-linejoin="round"/>
<polygon points="359.3,913.9 355.5,917.4 350.3,917.4 346.5,913.9 346.5,908.9 350.3,905.4 355.5,905.4 359.3,908.9" fill="none" stroke="#111" stroke-width="1.25"/>
<text x="0" y="0" font-size="10.6" font-weight="bold" fill="#16161e" transform="translate(371,935) rotate(90) scale(1,1.15)">Z</text>
<path d="M120.3 876.3L221.6 876.3L225.2 879.9L225.2 942.4L221.6 946.0L120.3 946.0L116.7 942.4L116.7 879.9Z" stroke="#111" stroke-width="1.25" fill="none" stroke-linejoin="round"/>
<line x1="120.3" y1="876.7" x2="221.6" y2="876.7" stroke="#111" stroke-width="1.7"/>
<rect x="154.4" y="879.4" width="67.9" height="63.8" rx="0" stroke="#111" stroke-width="1.25" fill="none"/>
<polygon points="217.2,915.6 214.4,923.7 209.2,930.5 202.0,935.5 193.6,938.1 184.8,938.1 176.4,935.5 169.2,930.5 164.0,923.7 161.2,915.6 161.2,907.2 164.0,899.1 169.2,892.3 176.4,887.3 184.8,884.7 193.6,884.7 202.0,887.3 209.2,892.3 214.4,899.1 217.2,907.2" fill="none" stroke="#111" stroke-width="1.25"/>
<line x1="189.2" y1="880.8" x2="189.2" y2="945.0" stroke="#111" stroke-width="1.0"/>
<circle cx="189.2" cy="893.2" r="5.2" stroke="#111" stroke-width="1.25" fill="none"/>
<circle cx="189.2" cy="929.6" r="5.2" stroke="#111" stroke-width="1.25" fill="none"/>
<path d="M123.5 946.0L223.1 946.0L226.7 949.6L226.7 1007.0L223.1 1010.6L123.5 1010.6L119.9 1007.0L119.9 949.6Z" stroke="#111" stroke-width="1.25" fill="none" stroke-linejoin="round"/>
<line x1="123.5" y1="1010.2" x2="223.1" y2="1010.2" stroke="#111" stroke-width="1.7"/>
<rect x="157.2" y="946.0" width="67.5" height="61.8" rx="0" stroke="#111" stroke-width="1.25" fill="none"/>
<polygon points="219.6,979.7 216.8,987.6 211.6,994.3 204.4,999.1 196.0,1001.7 187.2,1001.7 178.8,999.1 171.6,994.3 166.4,987.6 163.6,979.7 163.6,971.5 166.4,963.6 171.6,956.9 178.8,952.1 187.2,949.5 196.0,949.5 204.4,952.1 211.6,956.9 216.8,963.6 219.6,971.5" fill="none" stroke="#111" stroke-width="1.25"/>
<line x1="191.6" y1="950.5" x2="191.6" y2="1009.6" stroke="#111" stroke-width="1.0"/>
<circle cx="191.6" cy="959.7" r="5.2" stroke="#111" stroke-width="1.25" fill="none"/>
<circle cx="191.6" cy="992.1" r="5.2" stroke="#111" stroke-width="1.25" fill="none"/>
<path d="M100.8 885.1L114.6 885.1L115.6 886.6L115.6 935.9L114.6 937.4L100.8 937.4Q98.5 937.4 98.5 935.1L98.5 887.4Q98.5 885.1 100.8 885.1Z" stroke="#111" stroke-width="1.25" fill="#fff" stroke-linejoin="round"/>
<line x1="100.0" y1="889.8" x2="114.6" y2="889.8" stroke="#111" stroke-width="1.6"/>
<line x1="100.0" y1="907.1" x2="114.6" y2="907.1" stroke="#111" stroke-width="1.25"/>
<line x1="100.0" y1="916.7" x2="114.6" y2="916.7" stroke="#111" stroke-width="1.25"/>
<line x1="100.0" y1="932.0" x2="114.6" y2="932.0" stroke="#111" stroke-width="1.6"/>
<line x1="100.1" y1="887.1" x2="100.1" y2="935.4" stroke="#111" stroke-width="1.25"/>
<path d="M98.5 897.2L95.7 900.2L95.7 923.2L98.5 926.2" stroke="#111" stroke-width="1.25" fill="none" stroke-linejoin="round"/>
<rect x="93.4" y="905.5" width="2.2" height="11.5" rx="0" stroke="#111" stroke-width="0.6" fill="#111"/>
<path d="M103.0 949.2L116.7 949.2L117.7 950.7L117.7 1001.0L116.7 1002.5L103.0 1002.5Q100.7 1002.5 100.7 1000.2L100.7 951.5Q100.7 949.2 103.0 949.2Z" stroke="#111" stroke-width="1.25" fill="#fff" stroke-linejoin="round"/>
<line x1="102.2" y1="954.9" x2="116.7" y2="954.9" stroke="#111" stroke-width="1.6"/>
<line x1="102.2" y1="970.6" x2="116.7" y2="970.6" stroke="#111" stroke-width="1.25"/>
<line x1="102.2" y1="980.5" x2="116.7" y2="980.5" stroke="#111" stroke-width="1.25"/>
<line x1="102.2" y1="996.2" x2="116.7" y2="996.2" stroke="#111" stroke-width="1.6"/>
<line x1="102.3" y1="951.2" x2="102.3" y2="1000.5" stroke="#111" stroke-width="1.25"/>
<path d="M100.7 961.5L98.2 964.5L98.2 986.6L100.7 989.6" stroke="#111" stroke-width="1.25" fill="none" stroke-linejoin="round"/>
<rect x="226.0" y="887.9" width="14.0" height="46.6" rx="0" stroke="#111" stroke-width="1.25" fill="#fff"/>
<rect x="227.4" y="889.5" width="8.1" height="43.4" rx="0" stroke="#111" stroke-width="1.25" fill="none"/>
<line x1="227.4" y1="909.1" x2="235.5" y2="909.1" stroke="#111" stroke-width="1.25"/>
<line x1="227.4" y1="914.0" x2="235.5" y2="914.0" stroke="#111" stroke-width="1.25"/>
<rect x="228.4" y="952.4" width="11.6" height="46.4" rx="0" stroke="#111" stroke-width="1.25" fill="#fff"/>
<rect x="229.8" y="954.0" width="8.8" height="43.2" rx="0" stroke="#111" stroke-width="1.25" fill="none"/>
<line x1="229.8" y1="971.5" x2="238.6" y2="971.5" stroke="#111" stroke-width="1.25"/>
<line x1="229.8" y1="977.3" x2="238.6" y2="977.3" stroke="#111" stroke-width="1.25"/>
<path d="M397.70000000000005 876.4L498.0 876.4L501.6 880.0L501.6 942.4L498.0 946.0L397.70000000000005 946.0L394.1 942.4L394.1 880.0Z" stroke="#111" stroke-width="1.25" fill="none" stroke-linejoin="round"/>
<line x1="397.7" y1="876.8" x2="498.0" y2="876.8" stroke="#111" stroke-width="1.7"/>
<line x1="397.7" y1="945.6" x2="498.0" y2="945.6" stroke="#111" stroke-width="1.7"/>
<rect x="396.5" y="878.6" width="67.5" height="65.0" rx="0" stroke="#111" stroke-width="1.25" fill="none"/>
<polygon points="457.3,915.6 454.5,923.7 449.3,930.5 442.1,935.5 433.7,938.1 424.9,938.1 416.5,935.5 409.3,930.5 404.1,923.7 401.3,915.6 401.3,907.2 404.1,899.1 409.3,892.3 416.5,887.3 424.9,884.7 433.7,884.7 442.1,887.3 449.3,892.3 454.5,899.1 457.3,907.2" fill="none" stroke="#111" stroke-width="1.25"/>
<line x1="429.3" y1="880.9" x2="429.3" y2="945.0" stroke="#111" stroke-width="1.0"/>
<circle cx="429.3" cy="894.8" r="5.2" stroke="#111" stroke-width="1.25" fill="none"/>
<circle cx="429.3" cy="930.3" r="5.2" stroke="#111" stroke-width="1.25" fill="none"/>
<rect x="382.3" y="887.8" width="11.3" height="46.7" rx="0" stroke="#111" stroke-width="1.25" fill="#fff"/>
<rect x="383.2" y="889.4" width="7.4" height="43.5" rx="0" stroke="#111" stroke-width="1.25" fill="none"/>
<line x1="383.2" y1="909.1" x2="390.6" y2="909.1" stroke="#111" stroke-width="1.25"/>
<line x1="383.2" y1="914.0" x2="390.6" y2="914.0" stroke="#111" stroke-width="1.25"/>
<line x1="392.2" y1="888.0" x2="392.2" y2="934.3" stroke="#111" stroke-width="2.4"/>
<path d="M505.2 885.4L517.6 885.4Q519.6 885.4 519.6 887.4L519.6 935.5Q519.6 937.5 517.6 937.5L505.2 937.5Q503.2 937.5 503.2 935.5L503.2 887.4Q503.2 885.4 505.2 885.4Z" stroke="#111" stroke-width="1.25" fill="#fff" stroke-linejoin="round"/>
<line x1="504.0" y1="890.4" x2="518.6" y2="890.4" stroke="#111" stroke-width="1.6"/>
<line x1="504.0" y1="906.1" x2="518.6" y2="906.1" stroke="#111" stroke-width="1.25"/>
<line x1="504.0" y1="916.0" x2="518.6" y2="916.0" stroke="#111" stroke-width="1.25"/>
<line x1="504.0" y1="931.7" x2="518.6" y2="931.7" stroke="#111" stroke-width="1.6"/>
<line x1="518.0" y1="887.0" x2="518.0" y2="936.0" stroke="#111" stroke-width="1.25"/>
<path d="M519.8 893L522 897.5L522 925L519.8 929.5" stroke="#222" stroke-width="1.8" fill="none" stroke-linejoin="round"/>
<path d="M386.5 949.4L438.2 949.4L438.2 1002L386.5 1002Q382.5 1002 382.5 998L382.5 953.4Q382.5 949.4 386.5 949.4Z" stroke="#111" stroke-width="1.3" fill="#fff" stroke-linejoin="round"/>
<rect x="438.2" y="952.3" width="19.9" height="46.3" rx="0" stroke="#111" stroke-width="1.25" fill="#fff"/>
<line x1="438.2" y1="952.8" x2="458.1" y2="952.8" stroke="#111" stroke-width="2.0"/>
<line x1="438.2" y1="998.1" x2="458.1" y2="998.1" stroke="#111" stroke-width="2.0"/>
<line x1="438.2" y1="974.3" x2="458.1" y2="974.3" stroke="#111" stroke-width="1.25"/>
<line x1="438.2" y1="977.1" x2="458.1" y2="977.1" stroke="#111" stroke-width="1.6"/>
<line x1="457.2" y1="952.3" x2="457.2" y2="998.6" stroke="#111" stroke-width="2.0"/>
<rect x="458.1" y="955.6" width="7.1" height="39.7" rx="0" stroke="#111" stroke-width="1.25" fill="#fff"/>
<rect x="465.2" y="959.4" width="11.6" height="32.1" rx="0" stroke="#111" stroke-width="1.25" fill="#fff"/>
<line x1="475.8" y1="959.4" x2="475.8" y2="991.5" stroke="#666" stroke-width="2.2"/>
<rect x="476.8" y="961.4" width="8.2" height="27.3" rx="0" stroke="#111" stroke-width="1.25" fill="#fff"/>
<line x1="479.3" y1="961.4" x2="479.3" y2="988.7" stroke="#111" stroke-width="1.25"/>
<line x1="476.8" y1="966.5" x2="485.0" y2="966.5" stroke="#111" stroke-width="1.25"/>
<line x1="476.8" y1="975.2" x2="485.0" y2="975.2" stroke="#111" stroke-width="1.25"/>
<line x1="476.8" y1="983.5" x2="485.0" y2="983.5" stroke="#111" stroke-width="1.25"/>
<line x1="484.2" y1="961.4" x2="484.2" y2="988.7" stroke="#111" stroke-width="1.8"/>
<rect x="485.0" y="968.0" width="11.6" height="15.3" rx="0" stroke="#111" stroke-width="1.25" fill="#fff"/>
<line x1="485.0" y1="969.0" x2="496.6" y2="969.0" stroke="#111" stroke-width="1.8"/>
<line x1="485.0" y1="982.4" x2="496.6" y2="982.4" stroke="#111" stroke-width="1.8"/>
<path d="M496.6 967.2L500 967.2Q501.6 967.2 501.6 969L501.6 975.5L496.6 975.5" stroke="#111" stroke-width="1.25" fill="#fff" stroke-linejoin="round"/>
<line x1="499.2" y1="966.0" x2="499.2" y2="975.3" stroke="#555" stroke-width="2.0"/>
<path d="M497.5 975.5L497.5 987L504.8 987" stroke="#111" stroke-width="1.25" fill="none" stroke-linejoin="round"/>
<path d="M505.6 975.2L505.6 1000.3L508.6 1003.3L524.1 1003.3L527.1 1000.3L527.1 975.2" stroke="#111" stroke-width="1.3" fill="none" stroke-linejoin="round"/>
<rect x="509.7" y="984.6" width="12.9" height="17.4" rx="0" stroke="#111" stroke-width="1.25" fill="none"/>
<line x1="509.7" y1="984.6" x2="522.6" y2="1002.0" stroke="#111" stroke-width="1.0"/>
<line x1="522.6" y1="984.6" x2="509.7" y2="1002.0" stroke="#111" stroke-width="1.0"/>
<line x1="505.6" y1="975.2" x2="527.1" y2="975.2" stroke="#111" stroke-width="1.0"/>
<line x1="546.4" y1="846.2" x2="546.4" y2="1063.0" stroke="#111" stroke-width="1.0"/>
<line x1="345.4" y1="856.5" x2="550.2" y2="856.5" stroke="#111" stroke-width="1.0"/>
<line x1="384.5" y1="864.5" x2="550.2" y2="864.5" stroke="#111" stroke-width="1.0"/>
<line x1="328.1" y1="878.5" x2="550.2" y2="878.5" stroke="#111" stroke-width="1.0"/>
<line x1="328.1" y1="944.2" x2="551.0" y2="944.2" stroke="#111" stroke-width="1.0"/>
<line x1="384.1" y1="1036.2" x2="551.0" y2="1036.2" stroke="#111" stroke-width="1.0"/>
<line x1="325.4" y1="1045.5" x2="551.0" y2="1045.5" stroke="#111" stroke-width="1.0"/>
<polygon points="546.4,856.5 545.1,849.5 547.7,849.5" fill="#111"/>
<polygon points="546.4,864.5 545.1,871.5 547.7,871.5" fill="#111"/>
<polygon points="546.4,878.6 545.1,885.6 547.7,885.6" fill="#111"/>
<polygon points="546.4,911.4 545.1,918.4 547.7,918.4" fill="#111"/>
<polygon points="546.4,944.3 545.1,951.3 547.7,951.3" fill="#111"/>
<polygon points="546.4,975.2 545.1,982.2 547.7,982.2" fill="#111"/>
<polygon points="546.4,1045.5 545.1,1052.5 547.7,1052.5" fill="#111"/>
<circle cx="546.4" cy="1036.2" r="1.4" stroke="#111" stroke-width="0.5" fill="#111"/>
<text x="555.2" y="859.8" font-size="10.0" text-anchor="start" fill="#16161e">94</text>
<text x="555.2" y="868.5" font-size="10.0" text-anchor="start" fill="#16161e">90</text>
<text x="555.2" y="880.5" font-size="10.0" text-anchor="start" fill="#16161e">82</text>
<text x="555.2" y="913.7" font-size="10.0" text-anchor="start" fill="#16161e">65</text>
<text x="555.2" y="946.6" font-size="10.0" text-anchor="start" fill="#16161e">48</text>
<text x="555.2" y="978.4" font-size="10.0" text-anchor="start" fill="#16161e">31</text>
<text x="555.2" y="1038.6" font-size="10.0" text-anchor="start" fill="#16161e">0</text>
<text x="555.2" y="1046.8" font-size="10.0" text-anchor="start" fill="#16161e">4,7</text>
<path d="M279.9 1036L279.9 1043Q279.9 1045.6 282.5 1045.6L322.8 1045.6Q325.4 1045.6 325.4 1043L325.4 1036" stroke="#444" stroke-width="1.5" fill="none" stroke-linejoin="round"/>
<line x1="303.5" y1="1030.5" x2="303.5" y2="1050.4" stroke="#111" stroke-width="1.0"/>
<line x1="212.0" y1="1010.4" x2="212.0" y2="1046.8" stroke="#111" stroke-width="1.0"/>
<polygon points="212.0,1020.6 210.7,1013.6 213.3,1013.6" fill="#111"/>
<polygon points="212.0,1036.0 210.7,1043.0 213.3,1043.0" fill="#111"/>
<line x1="208.2" y1="1020.6" x2="245.4" y2="1020.6" stroke="#111" stroke-width="1.0"/>
<line x1="208.2" y1="1036.0" x2="234.0" y2="1036.0" stroke="#111" stroke-width="1.0"/>
<text x="210.2" y="1027.8" font-size="10.6" text-anchor="middle" fill="#16161e" transform="rotate(-90 210.2 1027.8)">8</text>
<g><circle cx="224.9" cy="1041.9" r="2.9" fill="none" stroke="#16161e" stroke-width="0.9"/><line x1="221.6" y1="1046.0" x2="228.2" y2="1037.8" stroke="#16161e" stroke-width="0.9"/><text x="231.0" y="1045.7" font-size="10.6" fill="#16161e">6,5</text></g>
<line x1="225.6" y1="1048.4" x2="278.5" y2="1048.4" stroke="#111" stroke-width="1.0"/>
<polygon points="252.9,1048.4 245.9,1047.1 245.9,1049.7" fill="#111"/>
<polygon points="267.2,1048.4 274.2,1047.1 274.2,1049.7" fill="#111"/>
<g><circle cx="253.4" cy="1054.5" r="2.9" fill="none" stroke="#16161e" stroke-width="0.9"/><line x1="250.1" y1="1058.6" x2="256.7" y2="1050.4" stroke="#16161e" stroke-width="0.9"/><text x="259.5" y="1058.3" font-size="10.6" fill="#16161e">11</text></g>
<line x1="249.5" y1="1059.7" x2="271.5" y2="1059.7" stroke="#111" stroke-width="1.0"/>
<polygon points="249.5,1059.7 255.5,1058.5 255.5,1060.9" fill="#111"/>
<polygon points="271.5,1059.7 265.5,1058.5 265.5,1060.9" fill="#111"/>
<line x1="53.3" y1="874.0" x2="137.9" y2="895.2" stroke="#111" stroke-width="1.0"/>
<circle cx="36.5" cy="870.2" r="10.5" stroke="#222" stroke-width="1.4" fill="#dcdcdc"/>
<text x="36.5" y="873.9" font-size="10.4" text-anchor="middle" fill="#1a1a2a" stroke="#1a1a2a" stroke-width="0.22">12</text>
<line x1="65.4" y1="950.4" x2="140.7" y2="965.0" stroke="#111" stroke-width="1.0"/>
<circle cx="49.4" cy="949.7" r="10.5" stroke="#222" stroke-width="1.4" fill="#dcdcdc"/>
<text x="49.4" y="953.4" font-size="10.4" text-anchor="middle" fill="#1a1a2a" stroke="#1a1a2a" stroke-width="0.22">11</text>
<line x1="488.2" y1="902.4" x2="585.0" y2="885.5" stroke="#111" stroke-width="1.0"/>
<circle cx="595.6" cy="883.4" r="10.5" stroke="#222" stroke-width="1.4" fill="#dcdcdc"/>
<text x="595.6" y="887.1" font-size="10.4" text-anchor="middle" fill="#1a1a2a" stroke="#1a1a2a" stroke-width="0.22">8</text>
<line x1="416.7" y1="992.0" x2="447.3" y2="1015.5" stroke="#111" stroke-width="1.0"/>
<circle cx="455.3" cy="1023.0" r="10.5" stroke="#222" stroke-width="1.4" fill="#dcdcdc"/>
<text x="455.3" y="1026.7" font-size="10.4" text-anchor="middle" fill="#1a1a2a" stroke="#1a1a2a" stroke-width="0.22">9</text>
<line x1="312.3" y1="1041.0" x2="331.5" y2="1053.5" stroke="#111" stroke-width="1.0"/>
<circle cx="339.1" cy="1061.1" r="10.5" stroke="#222" stroke-width="1.4" fill="#dcdcdc"/>
<text x="339.1" y="1064.8" font-size="10.4" text-anchor="middle" fill="#1a1a2a" stroke="#1a1a2a" stroke-width="0.22">10</text>
<line x1="89.9" y1="911.4" x2="143.0" y2="911.4" stroke="#111" stroke-width="1.0"/>
<line x1="148.0" y1="911.4" x2="154.0" y2="911.4" stroke="#111" stroke-width="1.0"/>
<line x1="158.0" y1="911.4" x2="222.0" y2="911.4" stroke="#111" stroke-width="1.0"/>
<line x1="228.0" y1="911.4" x2="282.0" y2="911.4" stroke="#111" stroke-width="1.0"/>
<line x1="288.0" y1="911.4" x2="296.0" y2="911.4" stroke="#111" stroke-width="1.0"/>
<line x1="302.0" y1="911.4" x2="396.0" y2="911.4" stroke="#111" stroke-width="1.0"/>
<line x1="402.0" y1="911.4" x2="461.0" y2="911.4" stroke="#111" stroke-width="1.0"/>
<line x1="466.0" y1="911.4" x2="479.0" y2="911.4" stroke="#111" stroke-width="1.0"/>
<line x1="484.0" y1="911.4" x2="519.6" y2="911.4" stroke="#111" stroke-width="1.0"/>
<line x1="526.2" y1="911.4" x2="550.2" y2="911.4" stroke="#111" stroke-width="1.0"/>
<line x1="89.9" y1="975.2" x2="150.0" y2="975.2" stroke="#111" stroke-width="1.0"/>
<line x1="156.0" y1="975.2" x2="162.0" y2="975.2" stroke="#111" stroke-width="1.0"/>
<line x1="167.0" y1="975.2" x2="225.0" y2="975.2" stroke="#111" stroke-width="1.0"/>
<line x1="246.0" y1="975.2" x2="306.0" y2="975.2" stroke="#111" stroke-width="1.0"/>
<line x1="311.0" y1="975.2" x2="318.0" y2="975.2" stroke="#111" stroke-width="1.0"/>
<line x1="323.0" y1="975.2" x2="383.0" y2="975.2" stroke="#111" stroke-width="1.0"/>
<line x1="387.0" y1="975.2" x2="396.0" y2="975.2" stroke="#111" stroke-width="1.0"/>
<line x1="400.5" y1="975.2" x2="461.0" y2="975.2" stroke="#111" stroke-width="1.0"/>
<line x1="465.5" y1="975.2" x2="527.0" y2="975.2" stroke="#111" stroke-width="1.0"/>
<line x1="530.4" y1="975.2" x2="551.0" y2="975.2" stroke="#111" stroke-width="1.0"/>
</svg>
</body></html>
